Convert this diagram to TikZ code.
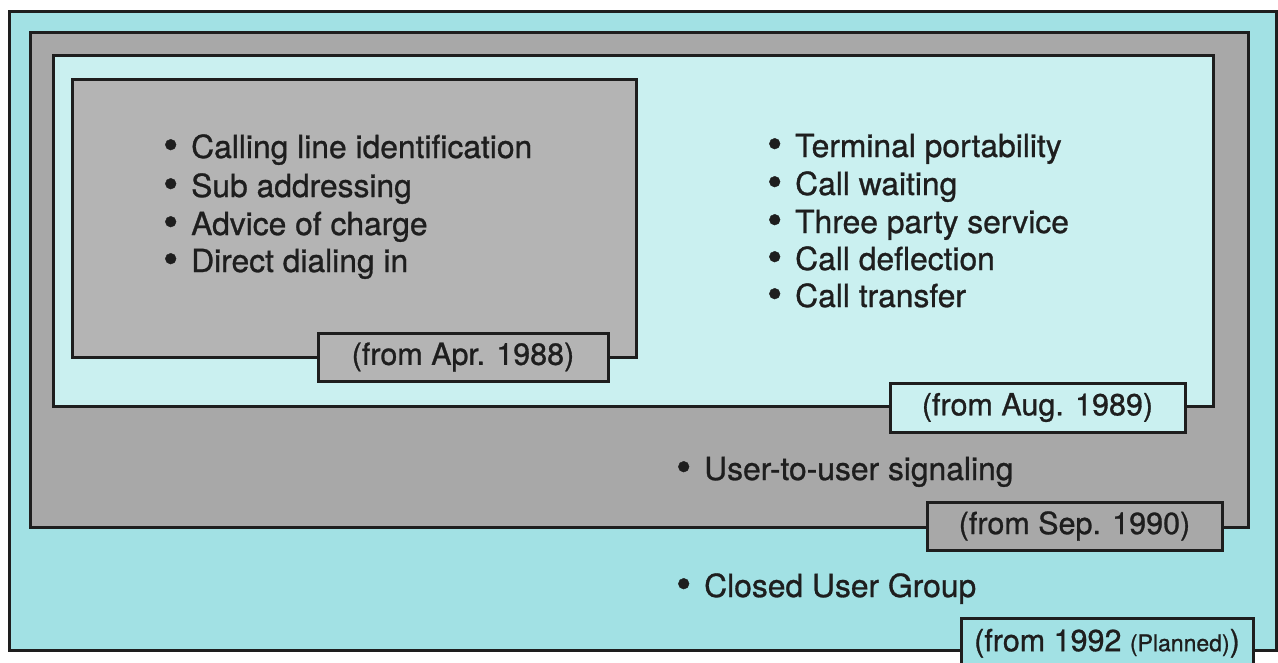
\documentclass[tikz,border=0pt]{standalone}
\usepackage{fontspec}
\setmainfont{TeX Gyre Heros}[FakeBold=0.9]
\definecolor{seacyan}{RGB}{162,225,228}
\definecolor{palecyan}{RGB}{202,240,240}
\definecolor{framegray}{RGB}{168,168,168}
\definecolor{panelgray}{RGB}{180,180,180}
\definecolor{ink}{RGB}{30,30,30}
\tikzset{
  frame/.style={draw=ink, line width=3pt},
  tag/.style={draw=ink, line width=3pt, inner sep=0pt, text=ink,
    font=\fontsize{30.5}{36}\selectfont},
  item/.style={anchor=base west, inner sep=0pt, text=ink,
    font=\fontsize{31.8}{38}\selectfont},
}
\newcommand{\bul}{\makebox[28pt][l]{\smash{\raisebox{-1.5pt}{\scalebox{1.35}{\textbullet}}}}}
\begin{document}
\begin{tikzpicture}[x=1pt,y=-1pt]
  \useasboundingbox (0,0) rectangle (1278,662);
  \begin{scope}
    \clip (0,0) rectangle (1278,662);
    % nested service frames, outermost first
    \path[frame, fill=seacyan]    (9,11)  rectangle (1276,650);
    \path[frame, fill=framegray]  (30,32) rectangle (1248,527);
    \path[frame, fill=palecyan]   (53,55) rectangle (1213,406);
    \path[frame, fill=panelgray]  (72,79) rectangle (636,357);

    % date tags straddling the lower edges
    \node[tag, fill=panelgray, minimum width=290pt, minimum height=48pt]
      (t88) at (463,357) {(from Apr. 1988)};
    \node[tag, fill=palecyan, minimum width=295pt, minimum height=49pt]
      (t89) at (1037.5,407.5) {(from Aug. 1989)};
    \node[tag, fill=framegray, minimum width=295pt, minimum height=48pt]
      (t90) at (1074.5,526) {(from Sep. 1990)};
    \node[tag, fill=seacyan, minimum width=292pt, minimum height=52pt]
      (t92) at (1107,644) {\raisebox{8pt}{(from 1992 {\fontsize{23}{28}\selectfont(Planned)})}};

    % 1988 services
    \node[item] (a1) at (163,158) {\bul Calling line identification};
    \node[item] (a2) at (163,197) {\bul Sub addressing};
    \node[item] (a3) at (163,235) {\bul Advice of charge};
    \node[item] (a4) at (163,272) {\bul Direct dialing in};

    % 1989 services
    \node[item] (b1) at (767,157) {\bul Terminal portability};
    \node[item] (b2) at (767,195) {\bul Call waiting};
    \node[item] (b3) at (767,233) {\bul Three party service};
    \node[item] (b4) at (767,270) {\bul Call deflection};
    \node[item] (b5) at (767,307) {\bul Call transfer};

    % 1990 and 1992 services
    \node[item] (c1) at (676,480) {\bul User-to-user signaling};
    \node[item] (d1) at (676,597) {\bul Closed User Group};
  \end{scope}
\end{tikzpicture}
\end{document}
